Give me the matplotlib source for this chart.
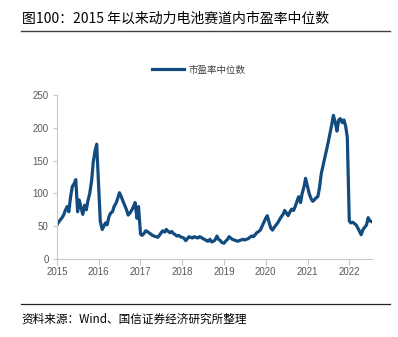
import numpy as np
import pandas as pd
import matplotlib
matplotlib.use("Agg")
import matplotlib.pyplot as plt
from matplotlib.lines import Line2D

# ---- DATA (semi-monthly readings of the PE median) ----
pe_2015 = [52, 56, 60, 63, 67, 74, 80, 72, 95, 110, 115, 121,
           72, 90, 78, 68, 82, 75, 90, 100, 120, 148, 165, 175]
pe_2016 = [110, 58, 45, 50, 55, 52, 65, 70, 72, 80, 85, 92,
           101, 96, 88, 82, 75, 67, 70, 74, 80, 86, 62, 80]
pe_2017 = [38, 36, 39, 43, 42, 40, 38, 36, 35, 34, 33, 36,
           40, 43, 41, 45, 42, 40, 42, 39, 37, 35, 36, 34]
pe_2018 = [33, 32, 28, 31, 34, 33, 32, 34, 33, 32, 34, 33,
           31, 30, 28, 27, 30, 26, 27, 29, 35, 30, 28, 25]
pe_2019 = [24, 27, 30, 34, 32, 30, 29, 28, 27, 28, 29, 30,
           29, 30, 31, 33, 35, 34, 37, 40, 42, 44, 50, 55]
pe_2020 = [62, 66, 55, 47, 44, 48, 52, 55, 60, 64, 68, 74,
           70, 66, 72, 76, 74, 80, 88, 95, 86, 100, 110, 123]
pe_2021 = [110, 100, 92, 88, 90, 93, 95, 108, 130, 141, 155, 165,
           178, 190, 205, 219, 208, 195, 212, 214, 208, 212, 202, 185]
pe_2022 = [58, 55, 56, 54, 52, 48, 42, 37, 45, 48, 52, 63, 58, 57]

values = pe_2015 + pe_2016 + pe_2017 + pe_2018 + pe_2019 + pe_2020 + pe_2021 + pe_2022
dates = pd.date_range("2015-01-01", periods=len(values), freq="SMS")

year_ticks = [2015, 2016, 2017, 2018, 2019, 2020, 2021, 2022]
y_ticks = [0, 50, 100, 150, 200, 250]

TITLE = "图100：2015 年以来动力电池赛道内市盈率中位数"
SOURCE = "资料来源：Wind、国信证券经济研究所整理"
LEGEND = "市盈率中位数"

LINE_COLOR = "#124B7E"
CJK = ["Noto Sans CJK SC", "DejaVu Sans"]

plt.rcParams["font.family"] = ["Liberation Sans", "Noto Sans CJK SC", "DejaVu Sans"]

fig = plt.figure(figsize=(3.98, 3.37), dpi=100)
ax = fig.add_axes([0.143, 0.2315, 0.792, 0.4865])

ax.plot(dates, values, color=LINE_COLOR, lw=2.3, label=LEGEND, solid_joinstyle="round")

ax.set_ylim(0, 250)
ax.set_yticks(y_ticks)
ax.set_xlim(pd.Timestamp("2015-01-01"), pd.Timestamp("2022-07-20"))
ax.set_xticks([pd.Timestamp(f"{y}-01-01") for y in year_ticks])
ax.set_xticklabels([str(y) for y in year_ticks])

for s in ["top", "right"]:
    ax.spines[s].set_visible(False)
for s in ["left", "bottom"]:
    ax.spines[s].set_color("#C8C8C8")
    ax.spines[s].set_linewidth(0.8)

ax.tick_params(axis="x", length=4, width=0.8, color="#C8C8C8", labelsize=7,
               labelcolor="#595959", pad=2)
ax.tick_params(axis="y", length=3, width=0.8, color="#C8C8C8", labelsize=7,
               labelcolor="#595959", pad=3)

leg = ax.legend(loc="center", bbox_to_anchor=(0.5, 0.792), bbox_transform=fig.transFigure,
                frameon=False, handlelength=3.4, handletextpad=0.5,
                prop={"family": CJK, "size": 6.8})
for t in leg.get_texts():
    t.set_color("#404040")

fig.text(0.055, 0.945, TITLE, fontsize=10, family=CJK, color="black", va="center", ha="left")
fig.text(0.055, 0.053, SOURCE, fontsize=8.4, family=CJK, color="black", va="center", ha="left")

fig.add_artist(Line2D([0.052, 0.98], [0.907, 0.907], transform=fig.transFigure,
                      color="#404040", lw=1.0))
fig.add_artist(Line2D([0.052, 0.98], [0.098, 0.098], transform=fig.transFigure,
                      color="#202020", lw=0.9))

fig.savefig("out.png", dpi=100)
